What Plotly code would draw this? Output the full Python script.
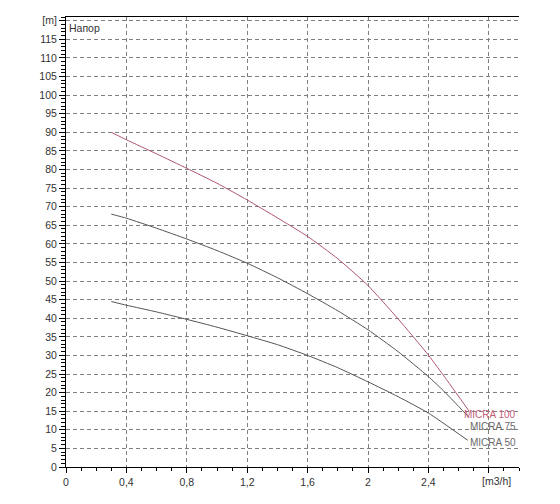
import plotly.graph_objects as go

# Data
micra100_q = [0.30, 0.40, 0.60, 0.80, 1.00, 1.20, 1.40, 1.60, 1.80, 2.00, 2.20, 2.40, 2.52, 2.67]
micra100_h = [90.0, 88.0, 84.2, 80.3, 76.3, 71.8, 67.0, 62.0, 56.0, 48.8, 39.8, 30.1, 23.5, 15.0]

micra75_q = [0.30, 0.40, 0.60, 0.80, 1.00, 1.20, 1.40, 1.60, 1.80, 2.00, 2.20, 2.40, 2.50, 2.60, 2.67]
micra75_h = [68.0, 66.9, 64.2, 61.3, 58.2, 54.8, 50.9, 46.6, 42.0, 36.9, 31.0, 24.3, 20.5, 16.3, 13.3]

micra50_q = [0.30, 0.40, 0.60, 0.80, 1.00, 1.20, 1.40, 1.60, 1.80, 2.00, 2.20, 2.40, 2.66]
micra50_h = [44.5, 43.5, 41.7, 39.7, 37.6, 35.3, 32.9, 30.0, 26.7, 22.9, 18.9, 14.5, 7.2]

x_tickvals = [0, 0.4, 0.8, 1.2, 1.6, 2.0, 2.4, 2.8]
x_ticktext = ["0", "0,4", "0,8", "1,2", "1,6", "2", "2,4", ""]
y_tickvals = list(range(0, 125, 5))
y_ticktext = [str(v) for v in range(0, 120, 5)] + ["[m]"]

series_names = ["MICRA 100", "MICRA 75", "MICRA 50"]

RED = "#b0586e"
GRAY = "#555555"
FONT = "Liberation Sans, Arial, sans-serif"

fig = go.Figure()
for qs, hs, col, nm in [(micra100_q, micra100_h, RED, series_names[0]),
                        (micra75_q, micra75_h, GRAY, series_names[1]),
                        (micra50_q, micra50_h, GRAY, series_names[2])]:
    fig.add_trace(go.Scatter(x=qs, y=hs, mode="lines", name=nm, hoverinfo="skip",
                             line=dict(color=col, width=1, shape="spline", smoothing=0.5)))

grid = dict(showgrid=True, gridcolor="#808080", gridwidth=1, griddash="4px,3px")

fig.update_layout(
    width=560, height=504,
    margin=dict(l=66, r=41, t=17, b=37),
    paper_bgcolor="white", plot_bgcolor="white",
    showlegend=False,
    font=dict(family=FONT, size=10.5, color="#333333"),
    xaxis=dict(range=[0, 3.0], tickmode="array", tickvals=x_tickvals, ticktext=x_ticktext,
               showline=True, linecolor="black", linewidth=1, mirror=True,
               ticks="outside", ticklen=5, tickcolor="black", zeroline=False,
               minor=dict(tick0=0, dtick=0.1, ticks="outside", ticklen=3,
                          tickcolor="black", showgrid=False),
               **grid),
    yaxis=dict(range=[0, 121], tickmode="array", tickvals=y_tickvals, ticktext=y_ticktext,
               showline=True, linecolor="black", linewidth=1,
               ticks="outside", ticklen=6, tickcolor="black", zeroline=False,
               minor=dict(tick0=0, dtick=1, ticks="outside", ticklen=4,
                          tickcolor="black", showgrid=False),
               **grid),
)

fig.add_annotation(x=2.8, y=0, xref="x", yref="y", text="[m3/h]", showarrow=False,
                   xanchor="center", yanchor="top", xshift=8, yshift=-6,
                   font=dict(family=FONT, size=10.5, color="#333333"))
fig.add_annotation(x=0, y=1, xref="paper", yref="paper", text="Напор", showarrow=False,
                   xanchor="left", yanchor="top", xshift=1, yshift=-3,
                   font=dict(family=FONT, size=10.5, color="#333333"))

label_pos = [(2.62, 14.0, "#c0607a"), (2.66, 11.0, "#6a6a6a"), (2.66, 6.7, "#6a6a6a")]
for name, (lx, ly, c) in zip(series_names, label_pos):
    fig.add_annotation(x=lx, y=ly, xref="x", yref="y", text=name, showarrow=False,
                       xanchor="left", yanchor="middle",
                       font=dict(family=FONT, size=10, color=c))

fig.write_html("out.html", config={"displayModeBar": False},
               post_script="document.body.style.margin='0';")
